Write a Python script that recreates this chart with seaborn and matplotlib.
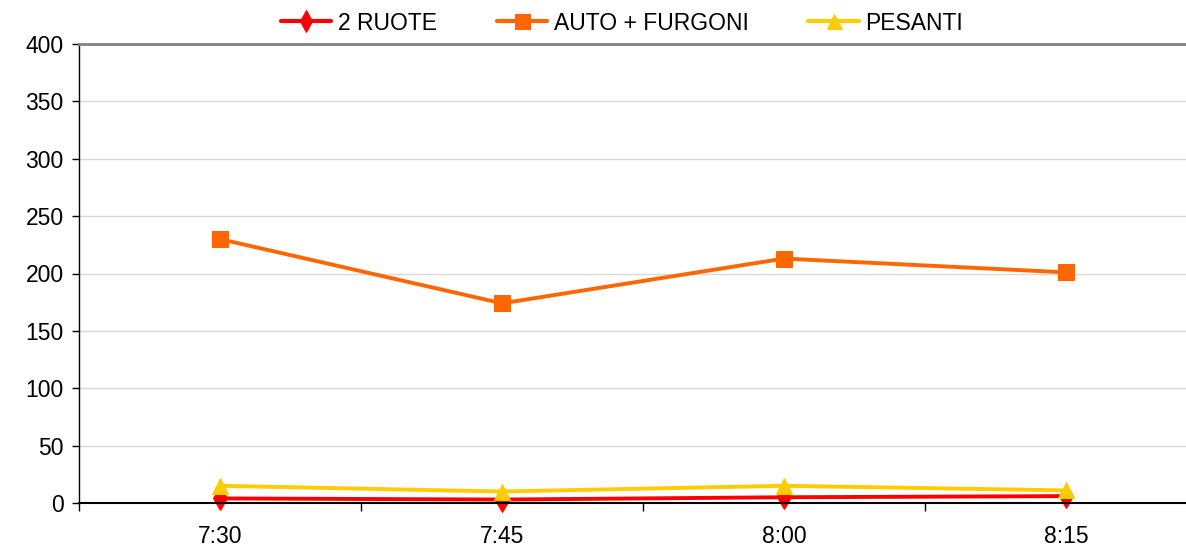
import matplotlib
matplotlib.use("Agg")
import matplotlib.pyplot as plt
import seaborn as sns
import pandas as pd

times = ["7:30", "7:45", "8:00", "8:15"]
ruote2 = [4, 3, 5, 6]
auto_furgoni = [230, 174, 213, 201]
pesanti = [15, 10, 15, 11]
series_names = ["2 RUOTE", "AUTO + FURGONI", "PESANTI"]
colors = ["#FF0000", "#FF6600", "#FFCC00"]

rows = []
for name, vals in zip(series_names, [ruote2, auto_furgoni, pesanti]):
    for t, v in zip(times, vals):
        rows.append({"time": t, "value": v, "serie": name})
df = pd.DataFrame(rows)

sns.set_theme(style="white")
plt.rcParams["font.family"] = ["Liberation Sans", "DejaVu Sans"]

FS = 16.5
W, H = 1186, 546
fig = plt.figure(figsize=(W / 100, H / 100), dpi=100)
left, right, top, bottom = 79, 1207, 44, 503
ax = fig.add_axes([left / W, 1 - bottom / H, (right - left) / W, (bottom - top) / H])

palette = dict(zip(series_names, colors))
markers = dict(zip(series_names, ["d", "s", "^"]))
sizes_ms = {"2 RUOTE": 12, "AUTO + FURGONI": 12, "PESANTI": 12}

sns.lineplot(data=df, x="time", y="value", hue="serie", style="serie",
             palette=palette, markers=markers, dashes=False, sort=False,
             linewidth=2.8, ax=ax, legend=True)

for line, name in zip(ax.get_lines(), series_names):
    line.set_markersize(sizes_ms[name])
    line.set_markeredgecolor(palette[name])
    line.set_markerfacecolor(palette[name])
    line.set_clip_on(False)

ax.set_xlim(-0.5, 3.5)
ax.set_ylim(0, 400)
ax.set_yticks(range(0, 401, 50))
ax.set_xlabel("")
ax.set_ylabel("")

ax.yaxis.grid(True, color="#D9D9D9", linewidth=1)
ax.set_axisbelow(True)
ax.tick_params(axis="y", which="major", left=True, length=5, width=1, color="black",
               labelsize=FS, pad=6, labelcolor="black")
ax.set_xticks([0, 1, 2, 3])
ax.set_xticklabels(times)
ax.set_xticks([-0.5, 0.5, 1.5, 2.5], minor=True)
ax.tick_params(axis="x", which="major", bottom=False, length=0, labelsize=FS, pad=15.5,
               labelcolor="black")
ax.tick_params(axis="x", which="minor", bottom=True, length=6, width=1, color="black")

ax.spines["right"].set_visible(False)
ax.spines["top"].set_color("#808080")
ax.spines["top"].set_linewidth(2)
ax.spines["left"].set_color("black")
ax.spines["left"].set_linewidth(1)
ax.spines["bottom"].set_color("black")
ax.spines["bottom"].set_linewidth(1.5)

handles, labels = ax.get_legend_handles_labels()
for h, name in zip(handles, labels):
    if name in sizes_ms:
        h.set_markersize(sizes_ms[name] * 0.9)
        h.set_markeredgecolor(palette[name])
        h.set_markerfacecolor(palette[name])
        h.set_linewidth(3)
ax.legend(handles, labels, loc="center", bbox_to_anchor=(622 / W, 1 - 23 / H),
          bbox_transform=fig.transFigure, ncol=3, frameon=False,
          fontsize=FS, handlelength=2.2, columnspacing=2.6, handletextpad=0.3,
          borderpad=0, labelcolor="black")

fig.savefig("out.png", dpi=100)
